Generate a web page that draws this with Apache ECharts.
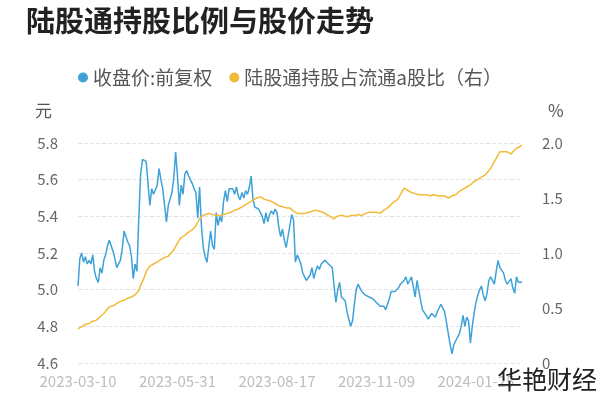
<!DOCTYPE html>
<html>
<head>
<meta charset="utf-8">
<script src="https://cdn.jsdelivr.net/npm/echarts@6/dist/echarts.min.js"></script>
<style>
html,body{margin:0;padding:0;background:#fff;}
#chart{width:600px;height:400px;}
</style>
</head>
<body>
<div id="chart"></div>
<script>
// trading days 2023-03-10 .. 2024-03-08 (weekdays minus exchange holidays)
var startDay = '2023-03-10';
var endDay = '2024-03-08';
var holidays = ['2023-04-05','2023-05-01','2023-05-02','2023-05-03','2023-06-22','2023-06-23',
    '2023-09-29','2023-10-02','2023-10-03','2023-10-04','2023-10-05','2023-10-06','2024-01-01',
    '2024-02-09','2024-02-12','2024-02-13','2024-02-14','2024-02-15','2024-02-16'];

// 收盘价:前复权 (元)
var price = [
    5.02,5.17,5.20,5.15,5.18,5.14,5.16,5.14,5.19,5.10,
    5.06,5.04,5.12,5.09,5.16,5.19,5.24,5.27,5.24,5.21,
    5.17,5.12,5.13,5.16,5.22,5.32,5.31,5.26,5.24,5.18,
    5.06,5.14,5.10,5.39,5.63,5.71,5.71,5.70,5.58,5.46,
    5.55,5.52,5.53,5.57,5.66,5.60,5.55,5.46,5.37,5.46,
    5.47,5.53,5.61,5.75,5.62,5.46,5.57,5.52,5.63,5.65,
    5.62,5.60,5.58,5.55,5.53,5.39,5.56,5.35,5.23,5.18,
    5.15,5.15,5.32,5.24,5.22,5.42,5.35,5.40,5.37,5.48,
    5.54,5.48,5.55,5.54,5.55,5.52,5.56,5.51,5.49,5.53,
    5.50,5.54,5.52,5.56,5.62,5.49,5.45,5.46,5.44,5.42,
    5.40,5.36,5.42,5.37,5.41,5.43,5.41,5.44,5.42,5.34,
    5.29,5.33,5.27,5.23,5.29,5.35,5.41,5.38,5.15,5.19,
    5.20,5.14,5.09,5.07,5.05,5.05,5.08,5.12,5.06,5.10,
    5.13,5.11,5.14,5.15,5.16,5.15,5.14,5.14,5.12,5.02,
    4.93,5.00,5.04,4.96,4.97,4.94,4.88,4.84,4.80,4.83,
    4.92,5.00,5.03,5.01,4.99,4.98,4.97,4.98,4.96,4.97,
    4.95,4.94,4.93,4.92,4.91,4.90,4.91,4.89,4.90,4.95,
    4.99,4.98,4.99,5.00,5.01,5.03,5.03,5.05,5.07,5.03,
    5.05,5.07,5.07,4.96,5.05,5.04,4.94,4.89,4.88,4.86,
    4.84,4.84,4.87,4.86,4.85,4.88,4.90,4.92,4.92,4.88,
    4.82,4.76,4.70,4.65,4.70,4.72,4.73,4.76,4.80,4.86,
    4.80,4.85,4.83,4.71,4.80,4.87,4.93,4.97,5.00,5.02,
    4.97,4.94,4.98,5.05,5.07,5.06,5.03,5.10,5.16,5.12,
    5.11,5.09,5.05,5.03,5.02,5.06,5.01,4.98,5.07,5.04,
    5.05,5.04
];

// 陆股通持股占流通a股比 (%)
var holdPct = [
    0.31,0.32,0.33,0.34,0.35,0.36,0.36,0.37,0.38,0.38,
    0.39,0.40,0.42,0.43,0.45,0.47,0.49,0.51,0.51,0.52,
    0.53,0.54,0.55,0.56,0.57,0.57,0.58,0.59,0.60,0.60,
    0.61,0.62,0.62,0.66,0.71,0.74,0.78,0.83,0.86,0.88,
    0.89,0.90,0.91,0.92,0.93,0.94,0.95,0.96,0.97,0.97,
    0.98,1.01,1.03,1.06,1.09,1.12,1.14,1.15,1.16,1.17,
    1.19,1.20,1.21,1.23,1.25,1.28,1.31,1.33,1.34,1.35,
    1.35,1.36,1.36,1.35,1.35,1.34,1.345,1.34,1.35,1.35,
    1.35,1.36,1.37,1.37,1.38,1.39,1.40,1.40,1.41,1.42,
    1.43,1.44,1.45,1.46,1.47,1.48,1.49,1.50,1.51,1.51,
    1.50,1.49,1.49,1.48,1.47,1.47,1.46,1.45,1.44,1.43,
    1.42,1.42,1.42,1.41,1.42,1.41,1.40,1.38,1.37,1.36,
    1.36,1.36,1.37,1.36,1.36,1.37,1.38,1.38,1.39,1.39,
    1.39,1.38,1.38,1.37,1.36,1.35,1.34,1.33,1.32,1.31,
    1.33,1.34,1.34,1.33,1.34,1.34,1.33,1.34,1.34,1.35,
    1.34,1.34,1.35,1.34,1.34,1.35,1.36,1.37,1.37,1.36,
    1.37,1.38,1.37,1.37,1.36,1.37,1.39,1.40,1.41,1.42,
    1.44,1.46,1.47,1.48,1.50,1.53,1.56,1.59,1.58,1.57,
    1.56,1.55,1.54,1.54,1.53,1.53,1.53,1.53,1.52,1.53,
    1.52,1.52,1.52,1.53,1.52,1.52,1.52,1.52,1.51,1.52,
    1.51,1.50,1.51,1.52,1.52,1.53,1.54,1.56,1.57,1.58,
    1.59,1.60,1.61,1.62,1.63,1.65,1.66,1.67,1.68,1.69,
    1.70,1.71,1.73,1.75,1.77,1.80,1.83,1.86,1.89,1.92,
    1.93,1.92,1.91,1.92,1.91,1.90,1.92,1.93,1.95,1.96,
    1.97,1.98
];

function pad(n){ return n < 10 ? '0' + n : '' + n; }
function tradingDays(from, to){
    var d = new Date(from + 'T00:00:00Z'),
        end = new Date(to + 'T00:00:00Z'),
        list = [];
    while(d <= end){
        var s = d.getUTCFullYear() + '-' + pad(d.getUTCMonth() + 1) + '-' + pad(d.getUTCDate()),
            wd = d.getUTCDay();
        if(wd !== 0 && wd !== 6 && holidays.indexOf(s) < 0){
            list.push(s);
        }
        d.setUTCDate(d.getUTCDate() + 1);
    }
    return list;
}

var dates = tradingDays(startDay, endDay);
var font = '"Noto Sans CJK SC", "Noto Sans", sans-serif';
var blue = '#3ea2d8', yellow = '#f1bb38';

var chart = echarts.init(document.getElementById('chart'));
chart.setOption({
    animation: false,
    backgroundColor: '#fff',
    textStyle: { fontFamily: font },
    title: {
        text: '陆股通持股比例与股价走势',
        left: 21, top: 1,
        textStyle: { fontSize: 29, fontWeight: 'bold', color: '#222', fontFamily: font }
    },
    legend: {
        left: 73, top: 63,
        icon: 'circle',
        itemWidth: 10, itemHeight: 10, itemGap: 17,
        textStyle: { fontSize: 19, color: '#555', fontFamily: font },
        data: ['收盘价:前复权', '陆股通持股占流通a股比（右）']
    },
    grid: { left: 78, right: 78, top: 143, bottom: 37 },
    xAxis: {
        type: 'category',
        data: dates,
        boundaryGap: false,
        axisLine: { show: false },
        axisTick: { show: false },
        axisLabel: { interval: 53, color: '#bdbdbd', fontSize: 15, margin: 11, fontFamily: font }
    },
    yAxis: [{
        type: 'value',
        min: 4.6, max: 5.8, interval: 0.2,
        axisLine: { show: false },
        axisTick: { show: false },
        axisLabel: { color: '#666', fontSize: 15, margin: 20, fontFamily: font,
            formatter: function(v){ return v.toFixed(1); } },
        splitLine: { lineStyle: { type: 'dashed', color: '#e4e4e4' } }
    }, {
        type: 'value',
        min: 0, max: 2, interval: 0.5,
        axisLine: { show: false },
        axisTick: { show: false },
        axisLabel: { color: '#666', fontSize: 15, margin: 20, fontFamily: font,
            formatter: function(v){ return v === 0 ? '0' : v.toFixed(1); } },
        splitLine: { show: false }
    }],
    series: [{
        name: '收盘价:前复权',
        type: 'line',
        data: price,
        yAxisIndex: 0,
        showSymbol: false,
        itemStyle: { color: blue },
        lineStyle: { color: blue, width: 1.5 }
    }, {
        name: '陆股通持股占流通a股比（右）',
        type: 'line',
        data: holdPct,
        yAxisIndex: 1,
        showSymbol: false,
        itemStyle: { color: yellow },
        lineStyle: { color: yellow, width: 1.5 }
    }],
    graphic: [
        { type: 'text', left: 35, top: 102, style: { text: '元', fontSize: 17, fill: '#555', fontFamily: font } },
        { type: 'text', left: 548, top: 102, style: { text: '%', fontSize: 17, fill: '#555', fontFamily: font } },
        { type: 'text', right: 3, top: 367, z: 100, style: { text: '华艳财经', fontSize: 25, fill: '#222', fontFamily: font } }
    ]
});
</script>
</body>
</html>
